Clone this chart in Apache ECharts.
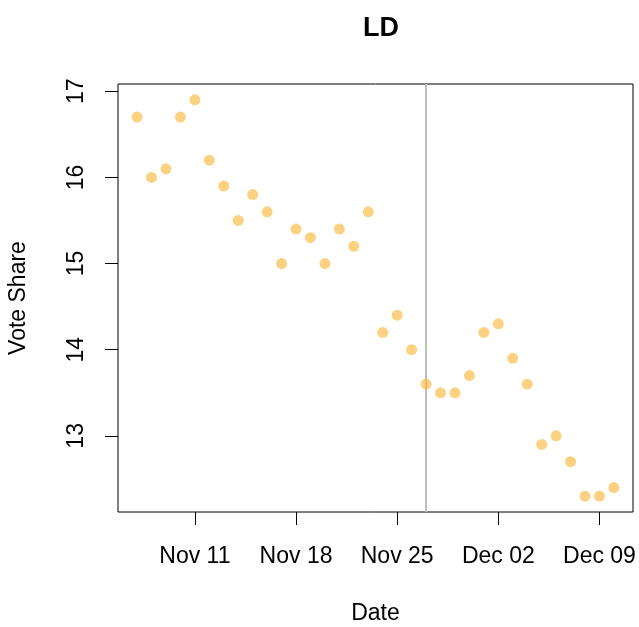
<!DOCTYPE html>
<html>
<head>
<meta charset="utf-8">
<script src="https://cdn.jsdelivr.net/npm/echarts@6/dist/echarts.min.js"></script>
<style>html,body{margin:0;padding:0;background:#fff}#c{width:639px;height:627px}</style>
</head>
<body>
<div id="c"></div>
<script>
const dates = ['2019-11-07','2019-11-08','2019-11-09','2019-11-10','2019-11-11','2019-11-12','2019-11-13','2019-11-14','2019-11-15','2019-11-16','2019-11-17','2019-11-18','2019-11-19','2019-11-20','2019-11-21','2019-11-22','2019-11-23','2019-11-24','2019-11-25','2019-11-26','2019-11-27','2019-11-28','2019-11-29','2019-11-30','2019-12-01','2019-12-02','2019-12-03','2019-12-04','2019-12-05','2019-12-06','2019-12-07','2019-12-08','2019-12-09','2019-12-10'];
const voteShare = [16.7,16.0,16.1,16.7,16.9,16.2,15.9,15.5,15.8,15.6,15.0,15.4,15.3,15.0,15.4,15.2,15.6,14.2,14.4,14.0,13.6,13.5,13.5,13.7,14.2,14.3,13.9,13.6,12.9,13.0,12.7,12.3,12.3,12.4];
const xTickDates = ['2019-11-11','2019-11-18','2019-11-25','2019-12-02','2019-12-09'];
const xTickLabels = ['Nov 11','Nov 18','Nov 25','Dec 02','Dec 09'];
const yTicks = [13,14,15,16,17];
const markerDate = '2019-11-27';

const day = s => Date.parse(s + 'T00:00:00Z') / 86400000;
const xs = dates.map(day);
const xMinD = Math.min(...xs), xMaxD = Math.max(...xs);
const xPad = (xMaxD - xMinD) * 0.04;
const yMinD = Math.min(...voteShare), yMaxD = Math.max(...voteShare);
const yPad = (yMaxD - yMinD) * 0.04;
const xTickVals = xTickDates.map(day);
const labelMap = {};
xTickVals.forEach((v, i) => labelMap[v] = xTickLabels[i]);

const font = 'Liberation Sans, Arial, Helvetica, sans-serif';
const chart = echarts.init(document.getElementById('c'), null, {renderer: 'canvas'});
chart.setOption({
  animation: false,
  backgroundColor: '#fff',
  title: {
    text: 'LD', left: 376, top: 10, textAlign: 'center',
    textStyle: {fontFamily: font, fontSize: 27, fontWeight: 'bold', color: '#000'}
  },
  grid: {left: 118, right: 6, top: 84, bottom: 115, containLabel: false, outerBoundsMode: 'none',
    show: true, borderColor: '#000', borderWidth: 1, backgroundColor: 'transparent'},
  xAxis: {
    type: 'value', min: xMinD - xPad, max: xMaxD + xPad,
    name: 'Date', nameLocation: 'middle', nameGap: 90,
    nameTextStyle: {fontFamily: font, fontSize: 23, color: '#000'},
    splitLine: {show: false},
    axisLine: {show: false},
    axisTick: {show: true, length: 13, customValues: xTickVals, lineStyle: {color: '#000', width: 1}},
    axisLabel: {customValues: xTickVals, formatter: v => labelMap[v] || '', margin: 33,
      fontFamily: font, fontSize: 23, color: '#000'}
  },
  yAxis: {
    type: 'value', min: yMinD - yPad, max: yMaxD + yPad,
    name: 'Vote Share', nameLocation: 'middle', nameGap: 88, nameRotate: 90,
    nameTextStyle: {fontFamily: font, fontSize: 23, color: '#000'},
    splitLine: {show: false},
    axisLine: {show: false},
    axisTick: {show: true, length: 13, customValues: yTicks, lineStyle: {color: '#000', width: 1}},
    axisLabel: {customValues: yTicks, rotate: 90, margin: 30, formatter: v => String(v),
      fontFamily: font, fontSize: 23, color: '#000', align: 'center', verticalAlign: 'bottom'}
  },
  series: [{
    type: 'scatter',
    data: xs.map((x, i) => [x, voteShare[i]]),
    symbolSize: 11,
    itemStyle: {color: 'rgba(250,184,60,0.8)'},
    z: 3,
    markLine: {
      silent: true, symbol: 'none', label: {show: false},
      lineStyle: {color: '#BEBEBE', width: 2, type: 'solid'},
      data: [{xAxis: day(markerDate)}],
      z: 1
    }
  }]
});
</script>
</body>
</html>
